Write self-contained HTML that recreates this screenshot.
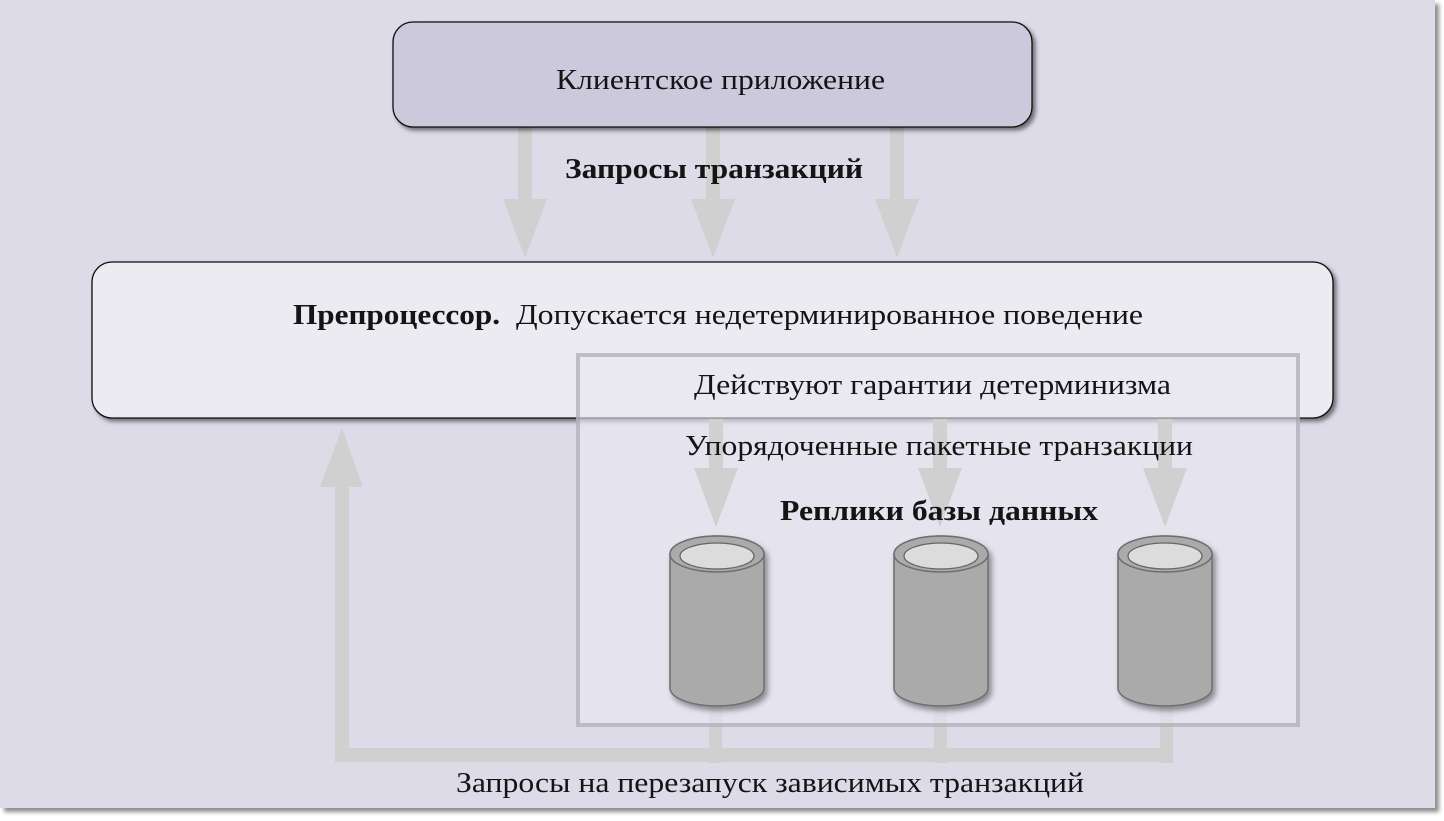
<!DOCTYPE html>
<html><head><meta charset="utf-8">
<style>
html,body{margin:0;padding:0;background:#fff;overflow:hidden;}
svg{display:block;}
text{font-family:"Liberation Serif","Noto Serif CJK SC",serif;font-size:29px;fill:#141414;}
.b{font-weight:bold;}
</style></head><body>
<svg width="1444" height="821" viewBox="0 0 1444 821" xmlns="http://www.w3.org/2000/svg">
<defs>
<filter id="pg" x="-5%" y="-5%" width="110%" height="110%">
<feDropShadow dx="4" dy="4" stdDeviation="2" flood-color="#000" flood-opacity="0.45"/>
</filter>
<filter id="ds" x="-5%" y="-10%" width="110%" height="130%">
<feDropShadow dx="3" dy="3" stdDeviation="2" flood-color="#000" flood-opacity="0.5"/>
</filter>
<filter id="cs" x="-20%" y="-10%" width="150%" height="130%">
<feDropShadow dx="3" dy="4" stdDeviation="3" flood-color="#000" flood-opacity="0.4"/>
</filter>
</defs>

<!-- page -->
<rect x="0" y="0" width="1435" height="808" fill="#dddbe8" filter="url(#pg)"/>

<!-- top arrows (client -> preprocessor) -->
<g fill="#d0d0d0">
  <rect x="518" y="110" width="14" height="95"/>
  <polygon points="503,199 547,199 525,258"/>
  <rect x="706" y="110" width="14" height="95"/>
  <polygon points="691,199 735,199 713,258"/>
  <rect x="890" y="110" width="14" height="95"/>
  <polygon points="875,199 919,199 897,258"/>
</g>

<!-- return path lines -->
<g fill="#d0d0d0">
  <rect x="335" y="480" width="14" height="282"/>
  <polygon points="320,487 363,487 342,428"/>
  <rect x="335" y="748" width="838" height="14"/>
  <rect x="709" y="690" width="13" height="73"/>
  <rect x="934" y="690" width="13" height="73"/>
  <rect x="1160" y="690" width="13" height="73"/>
</g>

<!-- client box -->
<rect x="393" y="22" width="639" height="105" rx="20" ry="20" fill="#cdc9dd" stroke="#111" stroke-width="1.3" filter="url(#ds)"/>

<!-- preprocessor box -->
<rect x="92" y="262" width="1241" height="156" rx="20" ry="20" fill="#ecebf2" stroke="#111" stroke-width="1.3" filter="url(#ds)"/>

<!-- determinism region fill -->
<rect x="576" y="353" width="724" height="374" fill="rgba(233,231,241,0.6)"/>

<!-- down arrows to replicas -->
<g fill="#d0d0d0">
  <rect x="709" y="419" width="14" height="56"/>
  <polygon points="694,468 738,468 716,527"/>
  <rect x="933" y="419" width="14" height="56"/>
  <polygon points="918,468 962,468 940,527"/>
  <rect x="1158" y="419" width="14" height="56"/>
  <polygon points="1143,468 1187,468 1165,527"/>
</g>

<!-- cylinders -->
<g>
  <g filter="url(#cs)">
    <path d="M670 554 L670 688 A47 18 0 0 0 764 688 L764 554 A47 18 0 0 0 670 554 Z" fill="#aaaaaa" stroke="#6e6e6e" stroke-width="1.5"/>
  </g>
  <ellipse cx="717" cy="554" rx="47" ry="18" fill="#aaaaaa" stroke="#6e6e6e" stroke-width="1.5"/>
  <ellipse cx="717" cy="556" rx="37" ry="13" fill="#dcdcdc" stroke="#666" stroke-width="1.3"/>

  <g filter="url(#cs)">
    <path d="M894 554 L894 688 A47 18 0 0 0 988 688 L988 554 A47 18 0 0 0 894 554 Z" fill="#aaaaaa" stroke="#6e6e6e" stroke-width="1.5"/>
  </g>
  <ellipse cx="941" cy="554" rx="47" ry="18" fill="#aaaaaa" stroke="#6e6e6e" stroke-width="1.5"/>
  <ellipse cx="941" cy="556" rx="37" ry="13" fill="#dcdcdc" stroke="#666" stroke-width="1.3"/>

  <g filter="url(#cs)">
    <path d="M1118 554 L1118 688 A47 18 0 0 0 1212 688 L1212 554 A47 18 0 0 0 1118 554 Z" fill="#aaaaaa" stroke="#6e6e6e" stroke-width="1.5"/>
  </g>
  <ellipse cx="1165" cy="554" rx="47" ry="18" fill="#aaaaaa" stroke="#6e6e6e" stroke-width="1.5"/>
  <ellipse cx="1165" cy="556" rx="37" ry="13" fill="#dcdcdc" stroke="#666" stroke-width="1.3"/>
</g>

<!-- determinism region border -->
<rect x="578" y="355" width="720" height="370" fill="none" stroke="rgba(160,158,170,0.6)" stroke-width="4"/>

<!-- texts -->
<text x="556" y="89" textLength="329" lengthAdjust="spacingAndGlyphs">Клиентское приложение</text>
<text class="b" x="565" y="178" textLength="298" lengthAdjust="spacingAndGlyphs">Запросы транзакций</text>
<text class="b" x="293" y="324" textLength="207" lengthAdjust="spacingAndGlyphs">Препроцессор.</text>
<text x="516" y="324" textLength="627" lengthAdjust="spacingAndGlyphs">Допускается недетерминированное поведение</text>
<text x="694" y="394" textLength="477" lengthAdjust="spacingAndGlyphs">Действуют гарантии детерминизма</text>
<text x="685" y="455" textLength="508" lengthAdjust="spacingAndGlyphs">Упорядоченные пакетные транзакции</text>
<text class="b" x="780" y="520" textLength="318" lengthAdjust="spacingAndGlyphs">Реплики базы данных</text>
<text x="456" y="792" textLength="628" lengthAdjust="spacingAndGlyphs">Запросы на перезапуск зависимых транзакций</text>
</svg>
</body></html>
